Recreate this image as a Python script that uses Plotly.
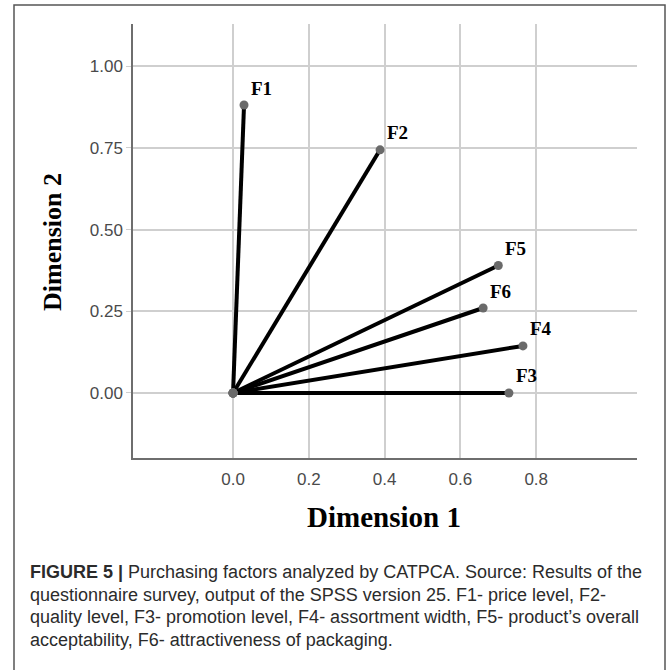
import plotly.graph_objects as go

# ---- data ----
factors = ["F1", "F2", "F3", "F4", "F5", "F6"]
dim1 = [0.029, 0.388, 0.728, 0.765, 0.700, 0.660]
dim2 = [0.881, 0.744, 0.000, 0.144, 0.390, 0.260]
x_ticks = [0.0, 0.2, 0.4, 0.6, 0.8]
x_tick_labels = ["0.0", "0.2", "0.4", "0.6", "0.8"]
y_ticks = [0.0, 0.25, 0.5, 0.75, 1.0]
y_tick_labels = ["0.00", "0.25", "0.50", "0.75", "1.00"]
x_title = "Dimension 1"
y_title = "Dimension 2"
caption_lines = [
    "<b>FIGURE 5 |</b> Purchasing factors analyzed by CATPCA. Source: Results of the",
    "questionnaire survey, output of the SPSS version 25. F1- price level, F2-",
    "quality level, F3- promotion level, F4- assortment width, F5- product\u2019s overall",
    "acceptability, F6- attractiveness of packaging.",
]

# ---- layout geometry (pixels) ----
W, H = 669, 670
L, R, T, B = 133, 637, 24, 458


def px(xp):
    return (xp - L) / (R - L)


def py(yp):
    return (B - yp) / (B - T)


# vectors from origin
xs, ys = [], []
for a, b in zip(dim1, dim2):
    xs += [0, a, None]
    ys += [0, b, None]

fig = go.Figure()
fig.add_trace(go.Scatter(
    x=xs, y=ys, mode="lines+markers",
    line=dict(color="black", width=4),
    marker=dict(color="#6a6a6a", size=9),
    hoverinfo="skip", showlegend=False,
))

annotations = []
for name, a, b in zip(factors, dim1, dim2):
    annotations.append(dict(
        x=a, y=b, text="<b>%s</b>" % name, showarrow=False,
        xanchor="left", yanchor="middle", xshift=5, yshift=17,
        font=dict(family="Liberation Serif", size=19, color="black"),
    ))

annotations.append(dict(
    x=px(384), y=py(517), xref="paper", yref="paper", text="<b>%s</b>" % x_title,
    showarrow=False, xanchor="center", yanchor="middle",
    font=dict(family="Liberation Serif", size=29, color="black"),
))
annotations.append(dict(
    x=px(53), y=py(242), xref="paper", yref="paper", text="<b>%s</b>" % y_title,
    showarrow=False, xanchor="center", yanchor="middle", textangle=-90,
    font=dict(family="Liberation Serif", size=26, color="black"),
))

cap_y = [572, 595, 617, 640]
for line, yy in zip(caption_lines, cap_y):
    annotations.append(dict(
        x=px(28), y=py(yy), xref="paper", yref="paper", text=line,
        showarrow=False, xanchor="left", yanchor="middle",
        font=dict(family="Liberation Sans", size=18, color="#2b2b2b"),
    ))

shapes = [dict(
    type="rect", xref="paper", yref="paper",
    x0=px(14), x1=px(665), y0=py(676), y1=py(5),
    line=dict(color="#555555", width=1.5), fillcolor="rgba(0,0,0,0)", layer="below",
)]

tick_font = dict(family="Liberation Sans", size=17, color="#4a4a4a")
fig.update_layout(
    width=W, height=H,
    margin=dict(l=L, r=W - R, t=T, b=H - B, pad=0),
    paper_bgcolor="white", plot_bgcolor="white",
    annotations=annotations, shapes=shapes,
    xaxis=dict(
        range=[-0.264, 1.066], tickmode="array", tickvals=x_ticks, ticktext=x_tick_labels,
        showgrid=True, gridcolor="#cfcfcf", gridwidth=1.5, zeroline=False,
        showline=True, linecolor="#6e6e6e", linewidth=1.5,
        ticks="outside", ticklen=5, tickcolor="rgba(0,0,0,0)", tickfont=tick_font,
    ),
    yaxis=dict(
        range=[-0.199, 1.129], tickmode="array", tickvals=y_ticks, ticktext=y_tick_labels,
        showgrid=True, gridcolor="#cfcfcf", gridwidth=1.5, zeroline=False,
        showline=True, linecolor="#6e6e6e", linewidth=1.5,
        ticks="outside", ticklen=5, tickcolor="#cfcfcf", tickfont=tick_font,
    ),
)

fig.write_html("out.html", config={"displayModeBar": False},
               post_script="document.body.style.margin='0px';")
